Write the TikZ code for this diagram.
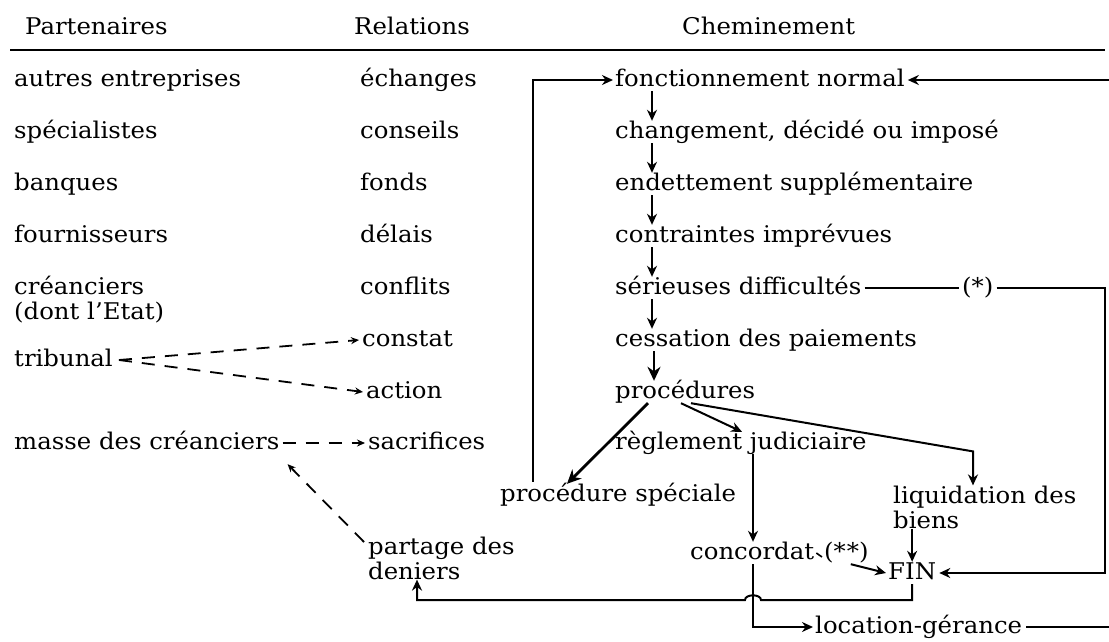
\documentclass[tikz,border=0pt]{standalone}
\usepackage{fontspec}
\setmainfont{DejaVu Serif}[FakeStretch=1.06]
\usetikzlibrary{arrows.meta}

\begin{document}
\begin{tikzpicture}[x=1pt, y=-1pt,
    txt/.style={inner sep=0pt, anchor=west, text height=17pt, text depth=5pt, font=\fontsize{23}{25}\selectfont},
    txtb/.style={inner sep=0pt, anchor=west, align=left, font=\fontsize{23}{25}\selectfont},
    arr/.style={-{Stealth[length=11pt, width=10pt]}, line width=2pt},
    bold/.style={-{Stealth[length=14pt, width=13pt]}, line width=2.8pt},
    dsh/.style={-{Stealth[length=8pt, width=7pt]}, line width=1.8pt, dash pattern=on 13pt off 10pt}]
    \useasboundingbox (0,0) rectangle (1109,641);

    \node[txt] (hP) at (25,28) {Partenaires};
    \node[txt] (hR) at (354,28) {Relations};
    \node[txt] (hC) at (682,28) {Cheminement};
    \draw[line width=2pt] (10,50) -- (1105,50);

    \node[txt] (p1) at (14,80) {autres entreprises};
    \node[txt] (p2) at (14,132) {spécialistes};
    \node[txt] (p3) at (14,184) {banques};
    \node[txt] (p4) at (14,236) {fournisseurs};
    \node[txtb] (p5) at (14,300) {créanciers\\(dont l'Etat)};
    \node[txt] (tb) at (14,360) {tribunal};
    \node[txt] (mc) at (14,443) {masse des créanciers};

    \node[txt] (r1) at (360,80) {échanges};
    \node[txt] (r2) at (360,132) {conseils};
    \node[txt] (r3) at (360,184) {fonds};
    \node[txt] (r4) at (360,236) {délais};
    \node[txt] (r5) at (360,288) {conflits};
    \node[txt] (cs) at (362,340) {constat};
    \node[txt] (ac) at (366,392) {action};
    \node[txt] (sa) at (368,443) {sacrifices};
    \node[txtb] (pd) at (368,558) {partage des\\deniers};

    \node[txt] (fn) at (615,80) {fonctionnement normal};
    \node[txt] (cd) at (615,132) {changement, décidé ou imposé};
    \node[txt] (es) at (615,184) {endettement supplémentaire};
    \node[txt] (ci) at (615,236) {contraintes imprévues};
    \node[txt] (sd) at (615,288) {sérieuses difficultés};
    \node[txt] (cp) at (615,340) {cessation des paiements};
    \node[txt] (pr) at (615,392) {procédures};
    \node[txt] (rj) at (615,443) {règlement judiciaire};
    \node[txt] (ps) at (500,495) {procédure spéciale};
    \node[txtb] (lq) at (893,507) {liquidation des\\biens};
    \node[txt] (cc) at (690,553) {concordat};
    \node[txt] (fin) at (888,573) {FIN};
    \node[txt] (lg) at (815,627) {location-gérance};
    \node[txt] (star) at (962,288) {(*)};
    \node[txt] (ast) at (824,553) {(*\kern1pt*)};

    \coordinate (rt) at (1105,288);
    \coordinate (fnedge) at (1109,80);
    \coordinate (lgedge) at (1109,627);
    \coordinate (hop) at (753,600);

    \foreach \a/\b in {fn/cd, cd/es, es/ci, ci/sd, sd/cp}
        \draw[arr] ([xshift=37pt]\a.south west) -- ([xshift=37pt]\b.north west);
    \draw[bold] ([xshift=39pt]cp.south west) -- ([xshift=39pt]pr.north west);
    \draw[bold] ([xshift=33pt]pr.south west) -- ([xshift=67pt]ps.north west);
    \draw[arr] ([xshift=66pt]pr.south west) -- ([xshift=127pt]rj.north west);
    \draw[arr] ([xshift=76pt]pr.south west) -- ([xshift=80pt,yshift=34pt]lq.north west) -- ([xshift=80pt]lq.north west);
    \draw[arr] ([xshift=138pt]rj.south west) -- ([xshift=63pt]cc.north west);
    \draw[arr] (fin.north |- lq.south) -- (fin.north);

    \draw[line width=2pt] ([xshift=3pt]sd.east) -- ([xshift=-3pt]star.west);
    \draw[arr] ([xshift=3pt]star.east) -- (rt) |- ([xshift=3pt]fin.east);
    \draw[line width=1.6pt] ([xshift=2pt]cc.east) -- ([xshift=-2pt,yshift=-4pt]ast.west);
    \draw[arr] ([xshift=-18pt]ast.south east) -- ([xshift=-2pt]fin.west);
    \draw[arr] ([xshift=63pt]cc.south west) |- ([xshift=-2pt]lg.west);
    \draw[line width=2pt] ([xshift=4pt]lg.east) -- (lgedge);
    \draw[arr] (fin.south) |- ([xshift=8pt]hop) to[out=90, in=90] ([xshift=-8pt]hop) -| ([xshift=49pt]pd.south west);

    \draw[arr] ([xshift=33pt,yshift=2pt]ps.north west) |- ([xshift=-2pt]fn.west);
    \draw[arr] (fnedge) -- ([xshift=3pt]fn.east);

    \draw[dsh] ([xshift=6pt]tb.east) -- ([xshift=-3pt]cs.west);
    \draw[dsh] ([xshift=6pt]tb.east) -- ([xshift=-3pt]ac.west);
    \draw[dsh] ([xshift=3pt]mc.east) -- ([xshift=-3pt]sa.west);
    \draw[dsh] ([xshift=-4pt,yshift=16pt]pd.west) -- ([xshift=8pt,yshift=-10pt]mc.south east);
\end{tikzpicture}
\end{document}
